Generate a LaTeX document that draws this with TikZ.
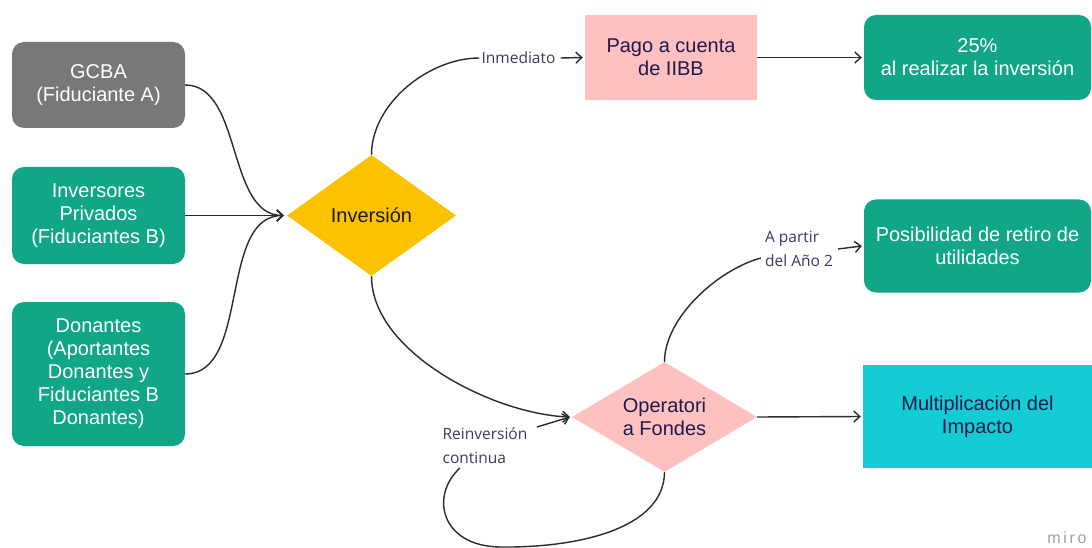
\documentclass[tikz,border=0pt]{standalone}
\usepackage{fontspec}
\setmainfont{Liberation Sans}
\newfontfamily\labfont{Open Sans}
\usetikzlibrary{shapes.geometric,arrows.meta}
\definecolor{gbox}{HTML}{787878}
\definecolor{grn}{HTML}{10A687}
\definecolor{yel}{HTML}{FCC200}
\definecolor{pnk}{HTML}{FFC0C0}
\definecolor{cyn}{HTML}{14CCD3}
\definecolor{labc}{HTML}{3D3A5C}
\definecolor{navy}{HTML}{1E1B4B}
\definecolor{linec}{HTML}{2B2B2B}
\begin{document}
\begin{tikzpicture}[x=1pt,y=-1pt,
  boxtxt/.style={font=\fontsize{20}{23}\selectfont, align=center, inner sep=0pt},
  rbox/.style={boxtxt, rounded corners=12pt, fill=#1, text=white},
  sbox/.style={boxtxt, fill=#1, text=navy},
  dia/.style={boxtxt, diamond, fill=#1, aspect=1.4},
  lab/.style={font=\labfont\fontsize{15.5}{24}\selectfont, text=labc, inner sep=0pt, align=left},
  conn/.style={draw=linec, line width=1.4pt},
  arr/.style={conn, -{Straight Barb[length=6pt,width=11pt,line width=1.4pt]}}
]
\useasboundingbox (0,0) rectangle (1092,548);
\fill[white] (0,0) rectangle (1092,548);

\node[rbox=gbox, minimum width=173pt, minimum height=86pt] (gcba) at (98.5,85) {GCBA\\(Fiduciante A)};
\node[rbox=grn, minimum width=173pt, minimum height=97pt] (inv) at (98.5,215.5) {Inversores\\Privados\\(Fiduciantes B)};
\node[rbox=grn, minimum width=173pt, minimum height=144pt] (don) at (98.5,374) {Donantes\\(Aportantes\\Donantes y\\Fiduciantes B\\Donantes)};

\node[dia=yel, minimum width=169pt, minimum height=121pt, text=black!90] (ivs) at (371.5,215.5) {Inversión};

\node[sbox=pnk, minimum width=172pt, minimum height=85pt] (pago) at (671,57.5) {Pago a cuenta\\de IIBB};
\node[rbox=grn, minimum width=227pt, minimum height=85pt] (pct) at (977.5,57.5) {25\%\\al realizar la inversión};
\node[rbox=grn, minimum width=227pt, minimum height=93pt] (pos) at (977.5,246) {Posibilidad de retiro de\\utilidades};
\node[dia=pnk, minimum width=185pt, minimum height=110pt, text=navy] (opf) at (664.5,417) {Operatori\\a Fondes};
\node[sbox=cyn, minimum width=229pt, minimum height=103pt] (mul) at (977.5,416.5) {Multiplicación del\\Impacto};

% labels
\node[lab] (inm) at (518.5,58) {Inmediato};
\node[lab] (apa) at (799,249) {A partir\\del Año 2};
\coordinate (apaend) at (761,258);
\node[lab] (rei) at (485,446) {Reinversión\\continua};
\coordinate (reiend) at (460,468);
\coordinate (reistart) at (537,427);

% connectors into Inversión
\draw[arr] (gcba.east) to[out=0,in=180,looseness=0.9] ([xshift=-3pt]ivs.west);
\draw[arr] (inv.east) -- ([xshift=-3pt]ivs.west);
\draw[arr] (don.east) to[out=0,in=180,looseness=0.9] ([xshift=-3pt]ivs.west);

% Inmediato
\draw[conn] (ivs.north) to[out=90,in=180,looseness=0.9] ([xshift=-2pt]inm.west);
\draw[arr] ([xshift=5pt]inm.east) -- ([xshift=-2pt]pago.west);
\draw[arr] (pago.east) -- ([xshift=-2pt]pct.west);

% down to Operatori
\draw[arr] (ivs.south) to[out=-90,in=178,looseness=0.8] ([xshift=-2pt]opf.west);

% A partir del Año 2
\draw[conn] (opf.north) to[out=90,in=195,looseness=0.8] (apaend);
\draw[arr] ([xshift=5pt]apa.east) -- ([xshift=-2pt]pos.west);

% to Multiplicación
\draw[arr] (opf.east) -- ([xshift=-2pt]mul.west);

% reinversion loop
\draw[conn] (opf.south) .. controls (664,528) and (580,548) .. (500,547)
  .. controls (440,546) and (430,495) .. (reiend);
\draw[arr] (reistart) -- ([xshift=-2pt]opf.west);

\node[font=\fontsize{16}{18}\selectfont, text=black!38] (miro) at (1067,538) {m\,i\,r\,o};
\end{tikzpicture}
\end{document}
